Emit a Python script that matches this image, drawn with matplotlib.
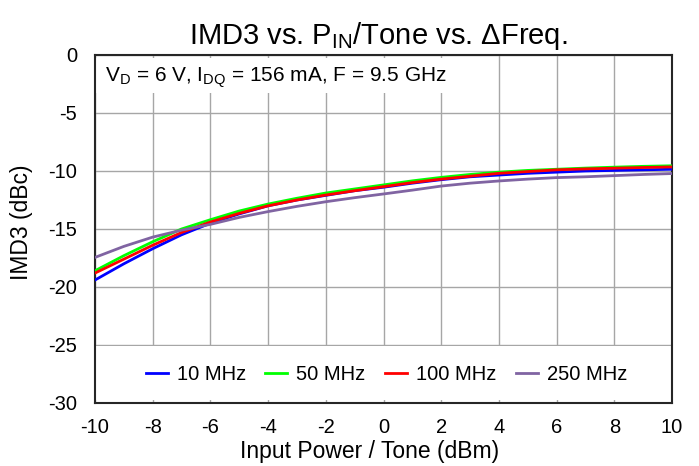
import matplotlib.pyplot as plt
from matplotlib.patches import Rectangle

plt.rcParams['font.family'] = ['Liberation Sans', 'DejaVu Sans']
plt.rcParams['mathtext.fontset'] = 'custom'
plt.rcParams['mathtext.rm'] = 'Liberation Sans'
plt.rcParams['mathtext.it'] = 'Liberation Sans'
plt.rcParams['axes.unicode_minus'] = False

pin = [-10, -9, -8, -7, -6, -5, -4, -3, -2, -1, 0, 1, 2, 3, 4, 5, 6, 7, 8, 9, 10]
imd_10 = [-19.4, -18.0, -16.7, -15.5, -14.5, -13.7, -13.0, -12.5, -12.1, -11.7, -11.4,
          -11.05, -10.75, -10.5, -10.35, -10.2, -10.1, -10.0, -9.95, -9.9, -9.85]
imd_50 = [-18.6, -17.3, -16.1, -15.0, -14.2, -13.45, -12.85, -12.35, -11.9, -11.55, -11.2,
          -10.85, -10.55, -10.3, -10.1, -9.95, -9.85, -9.75, -9.67, -9.6, -9.55]
imd_100 = [-18.8, -17.6, -16.4, -15.3, -14.4, -13.65, -13.0, -12.5, -12.07, -11.7, -11.35,
           -11.0, -10.7, -10.45, -10.2, -10.05, -9.9, -9.82, -9.76, -9.7, -9.65]
imd_250 = [-17.45, -16.5, -15.7, -15.1, -14.6, -14.0, -13.5, -13.05, -12.65, -12.3, -11.98,
           -11.65, -11.3, -11.05, -10.86, -10.7, -10.57, -10.5, -10.4, -10.3, -10.22]

fig = plt.figure(figsize=(6.99, 4.66), dpi=100)
ax = fig.add_axes([0.1359, 0.1352, 0.8255, 0.7468])

ax.plot(pin, imd_10, color='#0000FF', lw=2, label='10 MHz', zorder=3)
ax.plot(pin, imd_50, color='#00FF00', lw=2, label='50 MHz', zorder=3)
ax.plot(pin, imd_100, color='#FF0000', lw=2, label='100 MHz', zorder=3)
ax.plot(pin, imd_250, color='#8064A2', lw=2, label='250 MHz', zorder=3)

ax.set_xlim(-10, 10)
ax.set_ylim(-30, 0)
ax.set_xticks(range(-10, 11, 2))
ax.set_yticks(range(-30, 1, 5))
ax.grid(True, color='#A6A6A6', lw=1, zorder=0)
ax.set_axisbelow(True)
ax.tick_params(labelsize=14.5, length=0)
ax.tick_params(axis='x', pad=11)
ax.tick_params(axis='y', pad=13)
for s in ax.spines.values():
    s.set_linewidth(1.5)
    s.set_color('#262626')

ax.set_xlabel('Input Power / Tone (dBm)', fontsize=16.5, labelpad=2)
ax.xaxis.set_label_coords(0.476, -0.105)
ax.set_ylabel('IMD3 (dBc)', fontsize=16.5, labelpad=2)
ax.yaxis.set_label_coords(-0.107, 0.52)
ax.set_title('IMD3 vs. P$_{\\mathrm{IN}}$/Tone vs. ΔFreq.', fontsize=21, pad=8, x=0.49)

# white boxes that hide the grid behind the note and the legend
ax.add_patch(Rectangle((0, 0.891), 0.615, 0.099, transform=ax.transAxes,
                       facecolor='white', edgecolor='none', zorder=1))
ax.add_patch(Rectangle((0, 0.009), 1, 0.155, transform=ax.transAxes,
                       facecolor='white', edgecolor='none', zorder=1))

ax.text(0.017, 0.923, 'V$_{\\mathrm{D}}$ = 6 V, I$_{\\mathrm{DQ}}$ = 156 mA, F = 9.5 GHz',
        transform=ax.transAxes, fontsize=15, va='baseline', ha='left', zorder=2)

ax.legend(loc='center', bbox_to_anchor=(0.505, 0.083), ncol=4, fontsize=14.5,
          frameon=False, handlelength=1.1, handletextpad=0.45, columnspacing=0.95)

fig.savefig('out.png', dpi=100)
